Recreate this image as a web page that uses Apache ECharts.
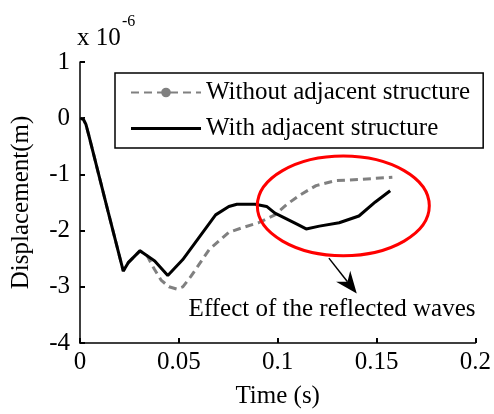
<!DOCTYPE html>
<html>
<head>
<meta charset="utf-8">
<script src="https://cdn.jsdelivr.net/npm/echarts@6/dist/echarts.min.js"></script>
<style>
  html, body { margin: 0; padding: 0; background: #fff; }
  #chart { width: 494px; height: 414px; }
</style>
</head>
<body>
<div id="chart"></div>
<script>
// Displacement history (units of 1e-6 m) with and without the adjacent structure
const timeWith = [0, 0.0017, 0.003, 0.0045, 0.0144, 0.0219, 0.0244, 0.0303, 0.0378, 0.0444,
  0.0519, 0.0686, 0.0753, 0.0794, 0.0886, 0.0944, 0.0986, 0.110, 0.1144, 0.1211,
  0.1311, 0.1411, 0.1494, 0.1569];
const dispWith = [0, -0.02, -0.11, -0.31, -1.69, -2.72, -2.57, -2.36, -2.54, -2.80,
  -2.52, -1.72, -1.57, -1.53, -1.53, -1.57, -1.69, -1.89, -1.97, -1.92,
  -1.86, -1.74, -1.49, -1.29];

const timeWithout = [0, 0.0017, 0.003, 0.0045, 0.0144, 0.0219, 0.0244, 0.0303, 0.034, 0.0375,
  0.041, 0.045, 0.049, 0.052, 0.056, 0.0653, 0.0753, 0.0828, 0.0903, 0.0986,
  0.1044, 0.1111, 0.1194, 0.1294, 0.1411, 0.1544, 0.158];
const dispWithout = [0, -0.02, -0.11, -0.31, -1.69, -2.72, -2.57, -2.36, -2.45, -2.68,
  -2.88, -3.00, -3.04, -3.00, -2.82, -2.34, -2.03, -1.94, -1.86, -1.72,
  -1.54, -1.37, -1.20, -1.11, -1.09, -1.06, -1.05];

const seriesNames = ['Without adjacent structure', 'With adjacent structure'];
const xTicks = { min: 0, max: 0.2, step: 0.05 };
const yTicks = { min: -4, max: 1, step: 1 };

// Annotation anchors in data units: highlighted region, arrow and its caption
const regionCenter = [0.1332, -1.56];
const regionRadius = [0.0435, 0.887];
const arrowFrom = [0.1259, -2.49];
const arrowTo = [0.140, -3.12];
const captionAt = [0.1275, -3.40];
const captionText = 'Effect of the reflected waves';

const FONT = "'Liberation Serif', 'Times New Roman', serif";
const FS = 25;

const pairs = (xs, ys) => xs.map((x, i) => [x, ys[i]]);

const chart = echarts.init(document.getElementById('chart'));

chart.setOption({
  animation: false,
  backgroundColor: '#fff',
  grid: { left: 80, right: 17, top: 62, bottom: 61, containLabel: false },
  legend: {
    orient: 'vertical',
    left: 115,
    top: 73,
    data: [
      { name: seriesNames[0] },
      // plain solid stroke for the second entry
      { name: seriesNames[1], icon: 'path://M0,0h70v3h-70z' }
    ],
    backgroundColor: '#fff',
    borderColor: '#000',
    borderWidth: 1.5,
    borderRadius: 0,
    padding: [5, 13, 5, 15],
    itemWidth: 70,
    itemHeight: 12,
    itemGap: 7,
    textStyle: { fontFamily: FONT, fontSize: FS, color: '#000', lineHeight: 29 }
  },
  xAxis: {
    type: 'value',
    min: xTicks.min, max: xTicks.max, interval: xTicks.step,
    name: 'Time (s)',
    nameLocation: 'middle',
    nameGap: 41,
    nameTextStyle: { fontFamily: FONT, fontSize: FS, color: '#000' },
    axisLine: { show: true, onZero: false, lineStyle: { color: '#000', width: 1.5 } },
    axisTick: { show: true, inside: true, length: 5, lineStyle: { color: '#000', width: 2 } },
    axisLabel: { fontFamily: FONT, fontSize: FS, color: '#000', margin: 7 },
    splitLine: { show: false }
  },
  yAxis: {
    type: 'value',
    min: yTicks.min, max: yTicks.max, interval: yTicks.step,
    name: 'Displacement(m)',
    nameLocation: 'middle',
    nameGap: 46,
    nameTextStyle: { fontFamily: FONT, fontSize: FS, color: '#000' },
    axisLine: { show: true, onZero: false, lineStyle: { color: '#000', width: 1.5 } },
    axisTick: { show: true, inside: true, length: 5, lineStyle: { color: '#000', width: 2 } },
    axisLabel: { fontFamily: FONT, fontSize: FS, color: '#000', margin: 10 },
    splitLine: { show: false }
  },
  series: [
    {
      name: seriesNames[0],
      type: 'line',
      data: pairs(timeWithout, dispWithout),
      showSymbol: false,
      symbol: 'circle',
      symbolSize: 8,
      itemStyle: { color: '#808080' },
      lineStyle: { color: '#808080', width: 3, type: [8, 5] },
      z: 2
    },
    {
      name: seriesNames[1],
      type: 'line',
      data: pairs(timeWith, dispWith),
      showSymbol: false,
      symbol: 'none',
      itemStyle: { color: '#000' },
      lineStyle: { color: '#000', width: 3 },
      z: 3
    }
  ]
});

// Annotations placed through the axes' own scale
function px(p) { return chart.convertToPixel({ gridIndex: 0 }, p); }

const c = px(regionCenter);
const edge = px([regionCenter[0] + regionRadius[0], regionCenter[1] + regionRadius[1]]);
const a0 = px(arrowFrom);
const a1 = px(arrowTo);
const cap = px(captionAt);
const corner = px([xTicks.min, yTicks.max]);

const dx = a1[0] - a0[0], dy = a1[1] - a0[1];
const len = Math.hypot(dx, dy);
const ux = dx / len, uy = dy / len;
const vx = -uy, vy = ux;
const headLen = 22, headHalf = 9, notch = 15;
const head = [
  [a1[0], a1[1]],
  [a1[0] - ux * headLen + vx * headHalf, a1[1] - uy * headLen + vy * headHalf],
  [a1[0] - ux * notch, a1[1] - uy * notch],
  [a1[0] - ux * headLen - vx * headHalf, a1[1] - uy * headLen - vy * headHalf]
];

chart.setOption({
  graphic: [
    {
      type: 'ellipse',
      shape: { cx: c[0], cy: c[1], rx: edge[0] - c[0], ry: c[1] - edge[1] },
      style: { fill: null, stroke: '#ff0000', lineWidth: 3 },
      z: 10
    },
    {
      type: 'line',
      shape: { x1: a0[0], y1: a0[1], x2: a1[0] - ux * notch, y2: a1[1] - uy * notch },
      style: { stroke: '#000', lineWidth: 1.5 },
      z: 10
    },
    {
      type: 'polygon',
      shape: { points: head },
      style: { fill: '#000' },
      z: 10
    },
    {
      type: 'text',
      x: cap[0], y: cap[1],
      style: { text: captionText, font: FS + 'px ' + FONT, fill: '#000', align: 'center', verticalAlign: 'middle' },
      z: 10
    },
    {
      type: 'text',
      x: corner[0] - 3, y: corner[1] - 24,
      style: { text: 'x 10', font: FS + 'px ' + FONT, fill: '#000', align: 'left', verticalAlign: 'middle' },
      z: 10
    },
    {
      type: 'text',
      x: corner[0] + 42, y: corner[1] - 40,
      style: { text: '-6', font: '16px ' + FONT, fill: '#000', align: 'left', verticalAlign: 'middle' },
      z: 10
    }
  ]
});
</script>
</body>
</html>
